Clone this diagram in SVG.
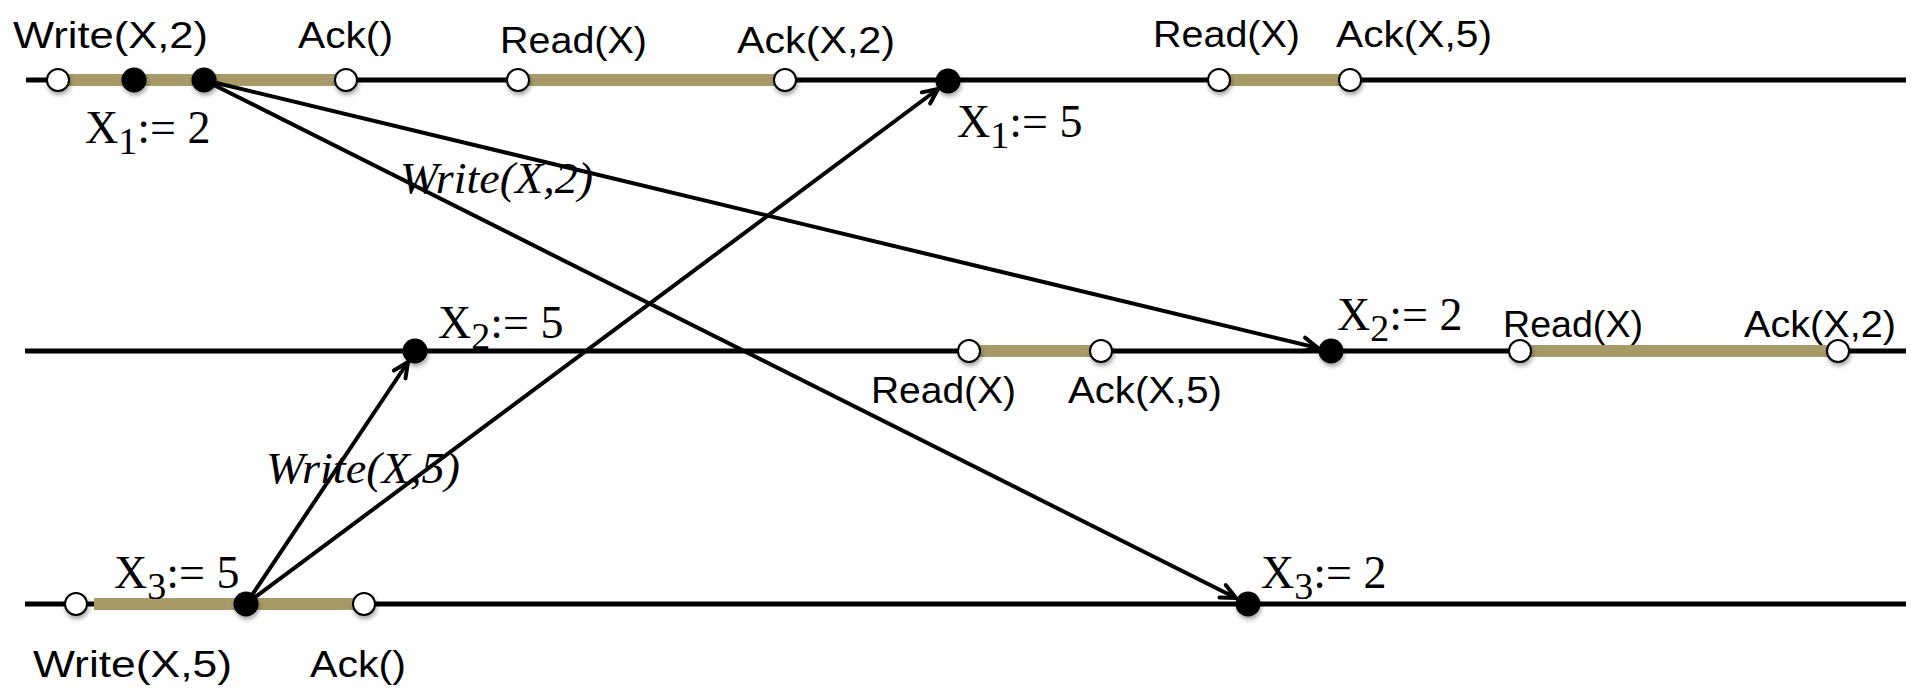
<svg xmlns="http://www.w3.org/2000/svg" width="1911" height="700" viewBox="0 0 1911 700">
<style>
.tl{stroke:#000;stroke-width:5;fill:none}
.band{stroke:#A69B68;stroke-width:12;fill:none}
.open{fill:#fff;stroke:#000;stroke-width:2;filter:url(#sh)}
.dot{fill:#000;filter:url(#sh)}
.msg{stroke:#000;stroke-width:4;fill:none;marker-end:url(#ah)}
.lab{font-family:"Liberation Sans",Arial,sans-serif;font-size:36px;fill:#000}
.val{font-family:"Liberation Serif","Times New Roman",serif;font-size:46px;fill:#000}
.sub{font-size:38px}
.mlab{font-family:"Liberation Serif","Times New Roman",serif;font-size:45px;font-style:italic;fill:#000}
</style>
<defs>
<filter id="sh" x="-50%" y="-50%" width="200%" height="200%">
<feDropShadow dx="1" dy="3" stdDeviation="2" flood-color="#000" flood-opacity="0.35"/>
</filter>
<marker id="ah" viewBox="0 0 20 20" refX="18" refY="10" markerWidth="20" markerHeight="20" markerUnits="userSpaceOnUse" orient="auto">
<path d="M3,3 L18,10 L3,17" fill="none" stroke="#000" stroke-width="4" stroke-linecap="round" stroke-linejoin="round"/>
</marker>
</defs>
<rect width="1911" height="700" fill="#fff"/>
<g id="timelines">
<line class="tl" x1="26" y1="80" x2="1906" y2="80"/>
<line class="tl" x1="25" y1="351" x2="1906" y2="351"/>
<line class="tl" x1="25" y1="604" x2="1906" y2="604"/>
</g>
<g id="bands">
<line class="band" x1="58" y1="80" x2="346" y2="80"/>
<line class="band" x1="518" y1="80" x2="785" y2="80"/>
<line class="band" x1="1219" y1="80" x2="1350" y2="80"/>
<line class="band" x1="969" y1="351" x2="1101" y2="351"/>
<line class="band" x1="1520" y1="351" x2="1832" y2="351"/>
<line class="band" x1="94" y1="604" x2="360" y2="604"/>
</g>
<g id="connectors">
<line class="msg" x1="204" y1="80" x2="1318" y2="348"/>
<line class="msg" x1="204" y1="80" x2="1236" y2="598"/>
<line class="msg" x1="246" y1="604" x2="938" y2="89"/>
<line class="msg" x1="246" y1="604" x2="408" y2="362"/>
<text class="mlab" x="400" y="193" textLength="193" lengthAdjust="spacingAndGlyphs">Write(X,2)</text>
<text class="mlab" x="266" y="483" textLength="194" lengthAdjust="spacingAndGlyphs">Write(X,5)</text>
</g>
<g id="p1-write">
<circle class="open" cx="58" cy="80" r="11"/>
<text class="lab" x="13" y="48" textLength="195" lengthAdjust="spacingAndGlyphs">Write(X,2)</text>
</g>
<g id="p1-apply2">
<circle class="dot" cx="134" cy="80" r="12.5"/>
<text class="val" x="85" y="143">X<tspan class="sub" dy="11">1</tspan><tspan dy="-11">:= 2</tspan></text>
</g>
<g id="p1-send2">
<circle class="dot" cx="204" cy="80" r="12.5"/>
</g>
<g id="p1-ack">
<circle class="open" cx="346" cy="80" r="11"/>
<text class="lab" x="298" y="48" textLength="95" lengthAdjust="spacingAndGlyphs">Ack()</text>
</g>
<g id="p1-read1">
<circle class="open" cx="518" cy="80" r="11"/>
<text class="lab" x="500" y="53" textLength="147" lengthAdjust="spacingAndGlyphs">Read(X)</text>
</g>
<g id="p1-ack1">
<circle class="open" cx="785" cy="80" r="11"/>
<text class="lab" x="737" y="53" textLength="158" lengthAdjust="spacingAndGlyphs">Ack(X,2)</text>
</g>
<g id="p1-apply5">
<circle class="dot" cx="948" cy="81" r="12.5"/>
<text class="val" x="957" y="137">X<tspan class="sub" dy="11">1</tspan><tspan dy="-11">:= 5</tspan></text>
</g>
<g id="p1-read2">
<circle class="open" cx="1219" cy="80" r="11"/>
<text class="lab" x="1153" y="47" textLength="147" lengthAdjust="spacingAndGlyphs">Read(X)</text>
</g>
<g id="p1-ack2">
<circle class="open" cx="1350" cy="80" r="11"/>
<text class="lab" x="1336" y="47" textLength="156" lengthAdjust="spacingAndGlyphs">Ack(X,5)</text>
</g>
<g id="p2-apply5">
<circle class="dot" cx="415" cy="351" r="12.5"/>
<text class="val" x="438" y="338">X<tspan class="sub" dy="11">2</tspan><tspan dy="-11">:= 5</tspan></text>
</g>
<g id="p2-read1">
<circle class="open" cx="969" cy="351" r="11"/>
<text class="lab" x="871" y="403" textLength="145" lengthAdjust="spacingAndGlyphs">Read(X)</text>
</g>
<g id="p2-ack1">
<circle class="open" cx="1101" cy="351" r="11"/>
<text class="lab" x="1068" y="403" textLength="154" lengthAdjust="spacingAndGlyphs">Ack(X,5)</text>
</g>
<g id="p2-apply2">
<circle class="dot" cx="1331" cy="351" r="12.5"/>
<text class="val" x="1337" y="330">X<tspan class="sub" dy="11">2</tspan><tspan dy="-11">:= 2</tspan></text>
</g>
<g id="p2-read2">
<circle class="open" cx="1520" cy="351" r="11"/>
<text class="lab" x="1503" y="337" textLength="140" lengthAdjust="spacingAndGlyphs">Read(X)</text>
</g>
<g id="p2-ack2">
<circle class="open" cx="1838" cy="351" r="11"/>
<text class="lab" x="1744" y="337" textLength="152" lengthAdjust="spacingAndGlyphs">Ack(X,2)</text>
</g>
<g id="p3-write">
<circle class="open" cx="76" cy="604" r="11"/>
<text class="lab" x="33" y="677" textLength="199" lengthAdjust="spacingAndGlyphs">Write(X,5)</text>
</g>
<g id="p3-apply5">
<circle class="dot" cx="246" cy="604" r="12.5"/>
<text class="val" x="114" y="588">X<tspan class="sub" dy="11">3</tspan><tspan dy="-11">:= 5</tspan></text>
</g>
<g id="p3-ack">
<circle class="open" cx="364" cy="604" r="11"/>
<text class="lab" x="310" y="677" textLength="96" lengthAdjust="spacingAndGlyphs">Ack()</text>
</g>
<g id="p3-apply2">
<circle class="dot" cx="1248" cy="604" r="12.5"/>
<text class="val" x="1261" y="588">X<tspan class="sub" dy="11">3</tspan><tspan dy="-11">:= 2</tspan></text>
</g>
</svg>
